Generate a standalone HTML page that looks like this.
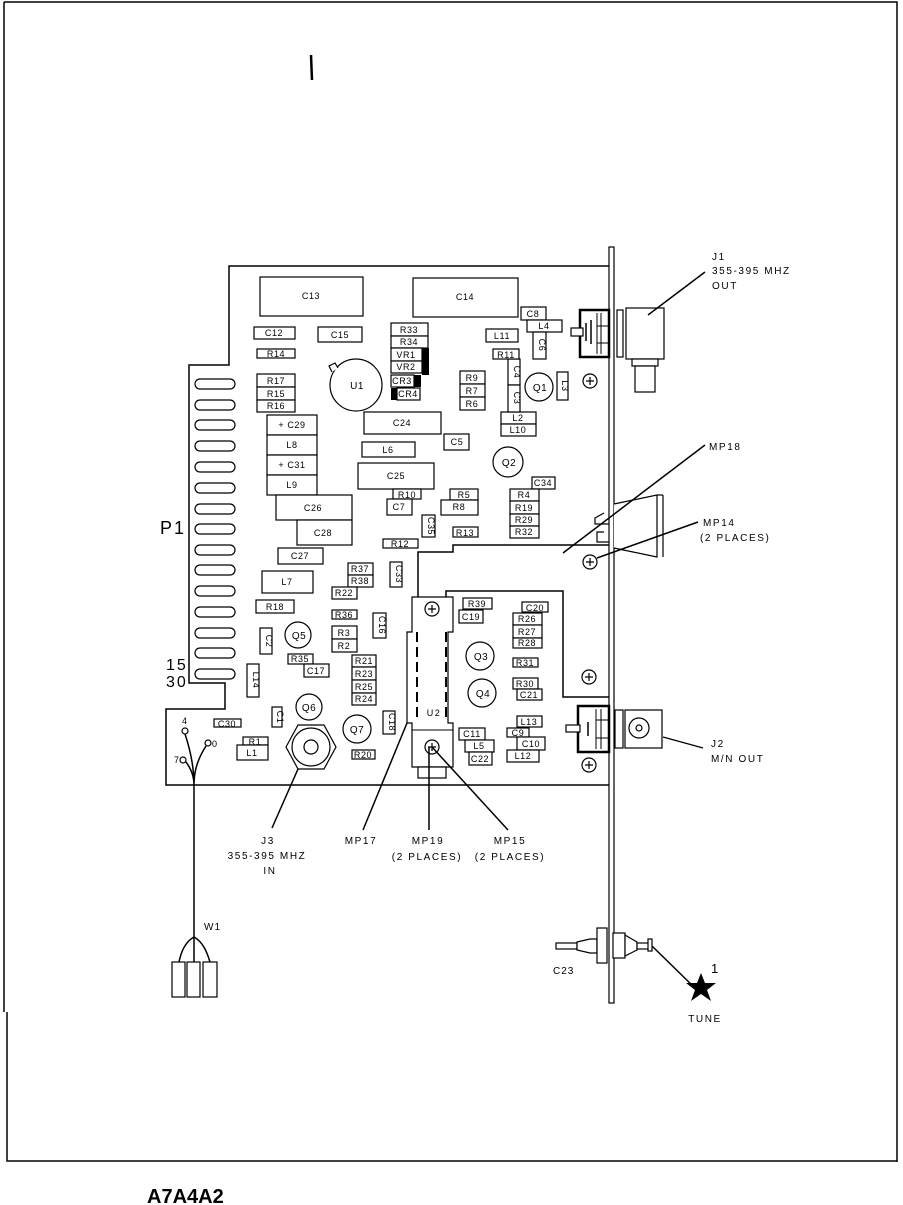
<!DOCTYPE html>
<html><head><meta charset="utf-8"><style>
html,body{margin:0;padding:0;background:#fff}
svg{display:block}
text{font-family:"Liberation Sans",sans-serif;fill:#000}
.c rect{fill:#fff;stroke:#000;stroke-width:1.2}
.c text{font-size:9px;text-anchor:middle;letter-spacing:0.6px}
.l{fill:none;stroke:#000;stroke-width:1.5}
.t{font-size:10px;letter-spacing:1.6px}
.m{text-anchor:middle}
</style></head><body>
<svg width="903" height="1205" viewBox="0 0 903 1205" xmlns="http://www.w3.org/2000/svg">
<!-- frame -->
<path d="M4 2 H897 V1162 M4 2 V1012" class="l" stroke-width="2.5"/>
<path d="M7 1012 V1161 H897" class="l" stroke-width="2.5"/>
<path d="M311 55 L312 80" stroke="#000" stroke-width="2.5"/>

<!-- board outline -->
<path d="M609 266 H229 V365 H189 V683 H225 V709 H166 V785 H609" class="l" stroke-width="2"/>
<!-- slots -->
<g fill="#fff" stroke="#000" stroke-width="1.2">
<rect x="195" y="379" width="40" height="10" rx="5"/><rect x="195" y="400" width="40" height="10" rx="5"/>
<rect x="195" y="420" width="40" height="10" rx="5"/><rect x="195" y="441" width="40" height="10" rx="5"/>
<rect x="195" y="462" width="40" height="10" rx="5"/><rect x="195" y="483" width="40" height="10" rx="5"/>
<rect x="195" y="504" width="40" height="10" rx="5"/><rect x="195" y="524" width="40" height="10" rx="5"/>
<rect x="195" y="545" width="40" height="10" rx="5"/><rect x="195" y="565" width="40" height="10" rx="5"/>
<rect x="195" y="586" width="40" height="10" rx="5"/><rect x="195" y="607" width="40" height="10" rx="5"/>
<rect x="195" y="628" width="40" height="10" rx="5"/><rect x="195" y="648" width="40" height="10" rx="5"/>
<rect x="195" y="669" width="40" height="10" rx="5"/>
</g>
<text x="160" y="534" font-size="18" letter-spacing="2">P1</text>
<text x="166" y="670" font-size="16" letter-spacing="2">15</text>
<text x="166" y="687" font-size="16" letter-spacing="2">30</text>

<!-- front panel -->
<rect x="609" y="247" width="5" height="756" fill="#fff" stroke="#000" stroke-width="1.2"/>

<!-- components -->
<g class="c">
<rect x="260" y="277" width="103" height="39"/><text x="311" y="299">C13</text>
<rect x="413" y="278" width="105" height="39"/><text x="465" y="300">C14</text>
<rect x="254" y="327" width="41" height="12"/><text x="274" y="336">C12</text>
<rect x="318" y="327" width="44" height="15"/><text x="340" y="338">C15</text>
<rect x="257" y="349" width="38" height="9"/><text x="276" y="357">R14</text>
<rect x="391" y="323" width="37" height="13"/><text x="409" y="333">R33</text>
<rect x="391" y="336" width="37" height="12"/><text x="409" y="345">R34</text>
<rect x="391" y="348" width="31" height="13"/><text x="406" y="358">VR1</text>
<rect x="391" y="361" width="31" height="12"/><text x="406" y="370">VR2</text>
<rect x="391" y="375" width="23" height="12"/><text x="402" y="384">CR3</text>
<rect x="397" y="388" width="23" height="12"/><text x="408" y="397">CR4</text>
<rect x="460" y="371" width="25" height="13"/><text x="472" y="381">R9</text>
<rect x="460" y="384" width="25" height="13"/><text x="472" y="394">R7</text>
<rect x="460" y="397" width="25" height="13"/><text x="472" y="407">R6</text>
<rect x="257" y="374" width="38" height="13"/><text x="276" y="384">R17</text>
<rect x="257" y="387" width="38" height="13"/><text x="276" y="397">R15</text>
<rect x="257" y="400" width="38" height="12"/><text x="276" y="409">R16</text>
<rect x="267" y="415" width="50" height="20"/><text x="292" y="428">+ C29</text>
<rect x="267" y="435" width="50" height="20"/><text x="292" y="448">L8</text>
<rect x="267" y="455" width="50" height="20"/><text x="292" y="468">+ C31</text>
<rect x="267" y="475" width="50" height="20"/><text x="292" y="488">L9</text>
<rect x="276" y="495" width="76" height="25"/><text x="313" y="511">C26</text>
<rect x="297" y="520" width="55" height="25"/><text x="323" y="536">C28</text>
<rect x="364" y="412" width="77" height="22"/><text x="402" y="426">C24</text>
<rect x="444" y="434" width="25" height="16"/><text x="457" y="445">C5</text>
<rect x="362" y="442" width="53" height="15"/><text x="388" y="453">L6</text>
<rect x="358" y="463" width="76" height="26"/><text x="396" y="479">C25</text>
<rect x="393" y="489" width="28" height="10"/><text x="407" y="498">R10</text>
<rect x="387" y="499" width="25" height="16"/><text x="399" y="510">C7</text>
<rect x="450" y="489" width="28" height="11"/><text x="464" y="498">R5</text>
<rect x="441" y="500" width="37" height="15"/><text x="459" y="510">R8</text>
<rect x="422" y="515" width="13" height="22"/><text x="428" y="526" transform="rotate(90 428 526)" font-size="8">C35</text>
<rect x="453" y="527" width="25" height="10"/><text x="465" y="536">R13</text>
<rect x="532" y="477" width="23" height="12"/><text x="543" y="486">C34</text>
<rect x="510" y="489" width="29" height="12"/><text x="524" y="498">R4</text>
<rect x="510" y="501" width="29" height="13"/><text x="524" y="511">R19</text>
<rect x="510" y="514" width="29" height="12"/><text x="524" y="523">R29</text>
<rect x="510" y="526" width="29" height="12"/><text x="524" y="535">R32</text>
<rect x="501" y="412" width="35" height="12"/><text x="518" y="421">L2</text>
<rect x="501" y="424" width="35" height="12"/><text x="518" y="433">L10</text>
<rect x="508" y="359" width="12" height="26"/><text x="514" y="372" transform="rotate(90 514 372)">C4</text>
<rect x="508" y="385" width="12" height="27"/><text x="514" y="398" transform="rotate(90 514 398)">C3</text>
<rect x="493" y="349" width="26" height="10"/><text x="506" y="358">R11</text>
<rect x="486" y="329" width="32" height="13"/><text x="502" y="339">L11</text>
<rect x="521" y="307" width="25" height="13"/><text x="533" y="317">C8</text>
<rect x="527" y="320" width="35" height="12"/><text x="544" y="329">L4</text>
<rect x="533" y="332" width="13" height="27"/><text x="539" y="345" transform="rotate(90 539 345)">C6</text>
<rect x="557" y="372" width="11" height="28"/><text x="562" y="386" transform="rotate(90 562 386)" font-size="8">L3</text>
<!-- lower -->
<rect x="383" y="539" width="35" height="9"/><text x="400" y="547">R12</text>
<rect x="278" y="548" width="45" height="16"/><text x="300" y="559">C27</text>
<rect x="262" y="571" width="51" height="22"/><text x="287" y="585">L7</text>
<rect x="348" y="563" width="25" height="12"/><text x="360" y="572">R37</text>
<rect x="348" y="575" width="25" height="12"/><text x="360" y="584">R38</text>
<rect x="332" y="587" width="25" height="12"/><text x="344" y="596">R22</text>
<rect x="390" y="562" width="12" height="25"/><text x="396" y="574" transform="rotate(90 396 574)">C33</text>
<rect x="256" y="600" width="38" height="13"/><text x="275" y="610">R18</text>
<rect x="332" y="610" width="25" height="9"/><text x="344" y="618">R36</text>
<rect x="373" y="613" width="13" height="25"/><text x="379" y="625" transform="rotate(90 379 625)">C16</text>
<rect x="332" y="626" width="25" height="13"/><text x="344" y="636">R3</text>
<rect x="332" y="639" width="25" height="13"/><text x="344" y="649">R2</text>
<rect x="260" y="628" width="12" height="26"/><text x="266" y="641" transform="rotate(90 266 641)">C2</text>
<rect x="288" y="654" width="25" height="10"/><text x="300" y="662">R35</text>
<rect x="304" y="664" width="25" height="13"/><text x="316" y="674">C17</text>
<rect x="247" y="664" width="12" height="33"/><text x="253" y="680" transform="rotate(90 253 680)">L14</text>
<rect x="352" y="655" width="24" height="12"/><text x="364" y="664">R21</text>
<rect x="352" y="667" width="24" height="13"/><text x="364" y="677">R23</text>
<rect x="352" y="680" width="24" height="13"/><text x="364" y="690">R25</text>
<rect x="352" y="693" width="24" height="12"/><text x="364" y="702">R24</text>
<rect x="272" y="707" width="10" height="20"/><text x="277" y="717" transform="rotate(90 277 717)" font-size="8">C1</text>
<rect x="214" y="719" width="27" height="8"/><text x="227" y="727" font-size="8">C30</text>
<rect x="243" y="737" width="25" height="8"/><text x="255" y="745" font-size="8">R1</text>
<rect x="237" y="745" width="31" height="15"/><text x="252" y="756">L1</text>
<rect x="383" y="711" width="12" height="23"/><text x="389" y="722" transform="rotate(90 389 722)" font-size="8">C18</text>
<rect x="352" y="750" width="23" height="9"/><text x="363" y="758">R20</text>
<rect x="463" y="598" width="29" height="11"/><text x="477" y="607">R39</text>
<rect x="459" y="610" width="24" height="13"/><text x="471" y="620">C19</text>
<rect x="522" y="602" width="26" height="10"/><text x="535" y="611">C20</text>
<rect x="513" y="613" width="29" height="12"/><text x="527" y="622">R26</text>
<rect x="513" y="625" width="29" height="13"/><text x="527" y="635">R27</text>
<rect x="513" y="638" width="29" height="10"/><text x="527" y="646">R28</text>
<rect x="513" y="658" width="25" height="9"/><text x="525" y="666">R31</text>
<rect x="513" y="678" width="25" height="11"/><text x="525" y="687">R30</text>
<rect x="517" y="689" width="25" height="11"/><text x="529" y="698">C21</text>
<rect x="517" y="716" width="25" height="11"/><text x="529" y="725">L13</text>
<rect x="507" y="728" width="22" height="9"/><text x="518" y="736">C9</text>
<rect x="517" y="737" width="28" height="13"/><text x="531" y="747">C10</text>
<rect x="507" y="750" width="32" height="12"/><text x="523" y="759">L12</text>
<rect x="459" y="728" width="26" height="12"/><text x="472" y="737">C11</text>
<rect x="465" y="740" width="29" height="12"/><text x="479" y="749">L5</text>
<rect x="469" y="752" width="23" height="13"/><text x="480" y="762">C22</text>
</g>
<!-- black bars -->
<rect x="422" y="348" width="7" height="27"/>
<rect x="414" y="375" width="7" height="12"/>
<rect x="391" y="388" width="6" height="12"/>

<!-- transistors / ICs -->
<g fill="#fff" stroke="#000" stroke-width="1.2">
<circle cx="356" cy="385" r="26"/><path d="M332 372 l-3 -6 6 -3 3 5"/>
<circle cx="539" cy="387" r="14"/>
<circle cx="508" cy="462" r="15"/>
<circle cx="298" cy="635" r="13"/>
<circle cx="309" cy="707" r="13"/>
<circle cx="357" cy="729" r="14"/>
<circle cx="480" cy="656" r="14"/>
<circle cx="482" cy="693" r="14"/>
</g>
<g font-size="10" text-anchor="middle" letter-spacing="0.5">
<text x="357" y="389">U1</text><text x="540" y="391">Q1</text><text x="509" y="466">Q2</text>
<text x="299" y="639">Q5</text><text x="309" y="711">Q6</text><text x="357" y="733">Q7</text>
<text x="481" y="660">Q3</text><text x="483" y="697">Q4</text>
</g>
<!-- plus circles -->
<g fill="#fff" stroke="#000" stroke-width="1.2">
<circle cx="590" cy="381" r="7"/><circle cx="590" cy="562" r="7"/><circle cx="589" cy="677" r="7"/>
<circle cx="589" cy="765" r="7"/><circle cx="432" cy="609" r="7"/><circle cx="432" cy="747" r="7"/>
</g>
<path d="M586 381h8M590 377v8M586 562h8M590 558v8M585 677h8M589 673v8M585 765h8M589 761v8M428 609h8M432 605v8M428 747h8M432 743v8" stroke="#000" stroke-width="1.2"/>

<!-- MP17/18 bracket lines -->
<path d="M418 597 V552 H453 V545 H609" class="l" stroke-width="2"/>
<path d="M446 597 V591 H563 V697 H609" class="l" stroke-width="2"/>
<!-- U2 -->
<path d="M412 597 H453 V632 H448 V723 H453 V767 H412 V723 H407 V632 H412 Z" fill="#fff" stroke="#000" stroke-width="1.2"/>
<rect x="418" y="767" width="28" height="11" fill="#fff" stroke="#000" stroke-width="1.2"/>
<line x1="412" y1="730" x2="453" y2="730" stroke="#000" stroke-width="1"/>
<path d="M417 632 V722 M446 632 V722" stroke="#000" stroke-width="2" stroke-dasharray="10 5"/>
<circle cx="432" cy="609" r="7" fill="#fff" stroke="#000" stroke-width="1.2"/>
<circle cx="432" cy="747" r="7" fill="#fff" stroke="#000" stroke-width="1.2"/>
<path d="M428 609h8M432 605v8M428 747h8M432 743v8" stroke="#000" stroke-width="1.2"/>
<text x="434" y="716" font-size="9" text-anchor="middle" letter-spacing="1.5">U2</text>

<!-- J3 hex -->
<polygon points="298,739 311,722 324,722 337,739 324,764 298,764" fill="none" stroke="#000" stroke-width="0"/>
<polygon points="286,747 298,725 324,725 336,747 324,769 298,769" fill="#fff" stroke="#000" stroke-width="1.2"/>
<circle cx="311" cy="747" r="19" fill="none" stroke="#000" stroke-width="1.2"/>
<circle cx="311" cy="747" r="7" fill="none" stroke="#000" stroke-width="1.2"/>

<!-- wire terminals -->
<g fill="#fff" stroke="#000" stroke-width="1.2">
<circle cx="185" cy="731" r="3"/><circle cx="208" cy="743" r="3"/><circle cx="183" cy="760" r="3"/>
</g>
<text x="182" y="724" font-size="9">4</text><text x="212" y="747" font-size="9">0</text><text x="174" y="763" font-size="9">7</text>
<path d="M185 734 C192 755 194 770 194 785 M206 746 C197 760 194 772 194 785 M186 762 C192 770 194 778 194 785 M194 785 V937" class="l" stroke-width="2"/>
<path d="M194 937 C185 942 181 952 179 962 M194 937 V962 M194 937 C203 942 207 952 210 962" class="l" stroke-width="1.5"/>
<g fill="#fff" stroke="#000" stroke-width="1.2">
<rect x="172" y="962" width="13" height="35"/><rect x="187" y="962" width="13" height="35"/><rect x="203" y="962" width="14" height="35"/>
</g>
<text x="204" y="930" font-size="10" letter-spacing="1">W1</text>

<!-- J1 internal -->
<rect x="580" y="310" width="29" height="47" fill="#fff" stroke="#000" stroke-width="2.5"/>
<path d="M597 313 V354 M601 313 V354 M597 326 H609 M597 343 H609" stroke="#000" stroke-width="1"/>
<rect x="571" y="328" width="12" height="8" fill="#fff" stroke="#000" stroke-width="1.2"/>
<path d="M586 323 V341 M591 320 V344" stroke="#000" stroke-width="1.5"/>
<!-- J1 external -->
<rect x="617" y="310" width="6" height="47" fill="#fff" stroke="#000" stroke-width="1.2"/>
<rect x="626" y="308" width="38" height="51" fill="#fff" stroke="#000" stroke-width="1.2"/>
<rect x="632" y="359" width="26" height="7" fill="#fff" stroke="#000" stroke-width="1.2"/>
<rect x="635" y="366" width="20" height="26" fill="#fff" stroke="#000" stroke-width="1.2"/>
<line x1="648" y1="315" x2="705" y2="272" class="l"/>
<text x="712" y="260" class="t">J1</text>
<text x="712" y="274" class="t">355-395 MHZ</text>
<text x="712" y="289" class="t">OUT</text>

<!-- MP14 bracket -->
<path d="M614 504 L657 495 V557 L614 548" fill="#fff" stroke="#000" stroke-width="1.2"/>
<line x1="663" y1="495" x2="663" y2="557" stroke="#000" stroke-width="1.2"/>
<line x1="657" y1="495" x2="663" y2="495" stroke="#000" stroke-width="1.2"/>
<path d="M604 513 L595 518 V524 H609 M604 532 H597 V542 H609" fill="none" stroke="#000" stroke-width="1.2"/>
<line x1="563" y1="553" x2="705" y2="445" class="l"/>
<text x="709" y="450" class="t">MP18</text>
<line x1="597" y1="558" x2="698" y2="522" class="l"/>
<text x="703" y="526" class="t">MP14</text>
<text x="700" y="541" class="t">(2 PLACES)</text>

<!-- J2 internal -->
<rect x="578" y="706" width="31" height="46" fill="#fff" stroke="#000" stroke-width="2.5"/>
<path d="M596 709 V749 M601 709 V749 M596 720 H609 M596 738 H609" stroke="#000" stroke-width="1"/>
<rect x="566" y="725" width="14" height="7" fill="#fff" stroke="#000" stroke-width="1.2"/>
<path d="M588 722 V736" stroke="#000" stroke-width="1.5"/>
<!-- J2 external -->
<rect x="615" y="710" width="8" height="38" fill="#fff" stroke="#000" stroke-width="1.2"/>
<rect x="625" y="710" width="37" height="38" fill="#fff" stroke="#000" stroke-width="1.2"/>
<circle cx="639" cy="728" r="10" fill="none" stroke="#000" stroke-width="1.2"/>
<circle cx="639" cy="728" r="3" fill="none" stroke="#000" stroke-width="1.2"/>
<line x1="663" y1="737" x2="703" y2="748" stroke="#000" stroke-width="1.2"/>
<text x="711" y="747" class="t">J2</text>
<text x="711" y="762" class="t">M/N OUT</text>

<!-- C23 -->
<g fill="#fff" stroke="#000" stroke-width="1.2">
<rect x="556" y="943" width="21" height="6"/>
<path d="M577 942 L590 939 H597 V953 H590 L577 950 Z"/>
<rect x="597" y="928" width="10" height="35"/>
<rect x="613" y="933" width="12" height="25"/>
<path d="M625 935 L637 942 V950 L625 956 Z"/>
<rect x="637" y="943" width="12" height="6"/>
<rect x="648" y="939" width="4" height="12"/>
</g>
<line x1="652" y1="946" x2="697" y2="990" class="l"/>
<text x="553" y="974" font-size="10" letter-spacing="1">C23</text>
<polygon points="701,973 705,983 716,983 707,990 711,1001 701,994 691,1001 695,990 686,983 697,983"/>
<text x="711" y="973" font-size="13">1</text>
<text x="705" y="1022" class="t m">TUNE</text>

<!-- bottom leaders -->
<line x1="298" y1="769" x2="272" y2="828" class="l"/>
<line x1="407" y1="723" x2="363" y2="830" class="l"/>
<line x1="429" y1="747" x2="429" y2="830" class="l"/>
<line x1="432" y1="747" x2="508" y2="830" class="l"/>
<g class="t m">
<text x="268" y="844">J3</text>
<text x="267" y="859">355-395 MHZ</text>
<text x="270" y="874">IN</text>
<text x="361" y="844">MP17</text>
<text x="428" y="844">MP19</text>
<text x="427" y="860">(2 PLACES)</text>
<text x="510" y="844">MP15</text>
<text x="510" y="860">(2 PLACES)</text>
</g>

<text x="147" y="1203" font-size="20" font-weight="bold" style="font-family:'Liberation Sans Narrow','Liberation Sans',sans-serif">A7A4A2</text>
</svg>
</body></html>
